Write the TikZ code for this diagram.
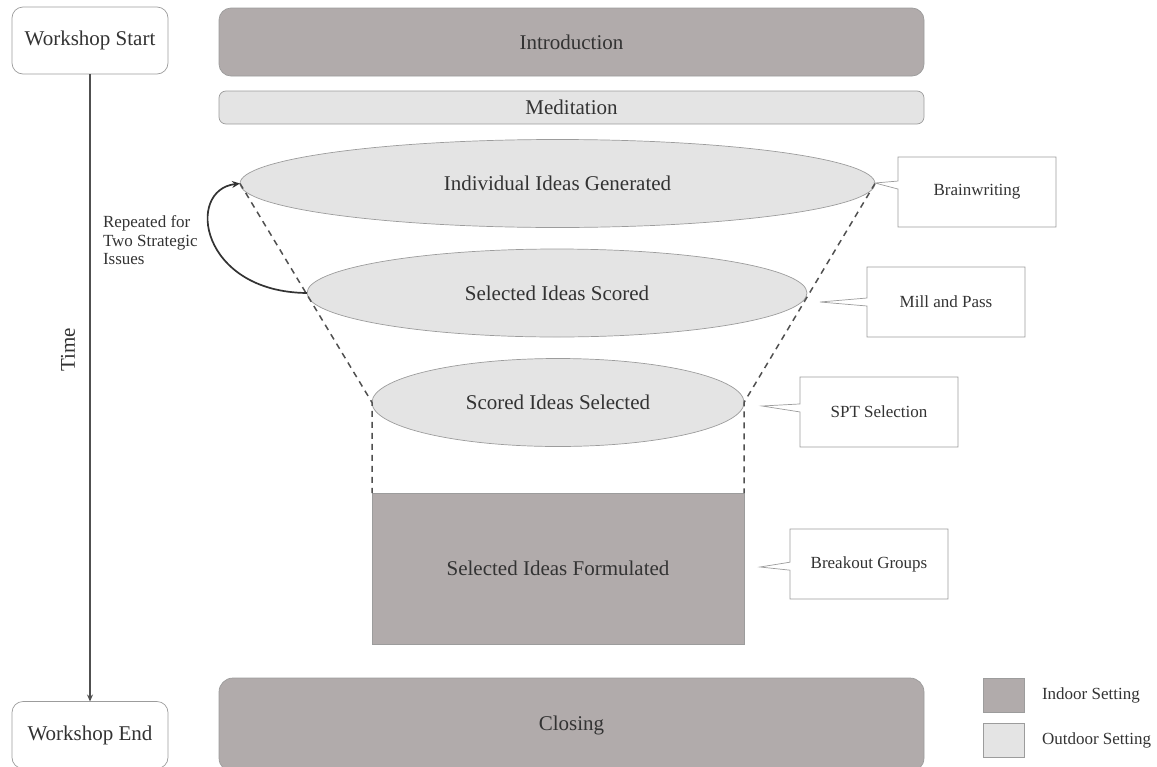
\documentclass[tikz,border=0pt]{standalone}
\usepackage{fontspec}
\setmainfont{Liberation Serif}
\usetikzlibrary{shapes.geometric,shapes.callouts,arrows.meta}
\definecolor{indoor}{HTML}{B1ABAB}
\definecolor{outdoor}{HTML}{E4E4E4}
\definecolor{edgegray}{HTML}{9C9C9C}
\definecolor{ink}{HTML}{333333}
\definecolor{linegray}{HTML}{505050}

\begin{document}
\begin{tikzpicture}[x=1pt,y=-1pt,
  every node/.style={text=ink, inner sep=0pt, outer sep=0pt},
  bigfont/.style={font=\fontsize{21}{25}\selectfont},
  smallfont/.style={font=\fontsize{17}{19}\selectfont},
  endpoint/.style={bigfont, rectangle, rounded corners=11pt, draw=edgegray, line width=0.7pt,
    fill=white, minimum width=156pt, minimum height=67pt},
  phase/.style={bigfont, rectangle, draw=edgegray, line width=0.7pt, minimum width=705pt},
  stage/.style={bigfont, ellipse, draw=edgegray, line width=0.7pt, fill=outdoor, minimum height=88pt},
  method/.style={smallfont, rectangle callout, draw=edgegray, line width=0.7pt, fill=white,
    minimum width=158pt, minimum height=70pt, callout pointer width=8pt},
  funnel/.style={dashed, dash pattern=on 6pt off 5pt, line width=1.5pt, draw=linegray},
  swatch/.style={rectangle, draw=edgegray, line width=0.7pt, minimum width=41pt, minimum height=34pt},
]
\useasboundingbox (0,0) rectangle (1157,766);

% time line
\node[endpoint] (ws) at (90,40.5) {Workshop Start};
\node[endpoint] (we) at (90,735) {Workshop End};
\draw[line width=1.3pt, draw=linegray, -{Stealth[length=7pt,width=6pt]}] (ws.south) -- (we.north);
\node[bigfont, rotate=90] (time) at (68,350) {Time};

% phases of the day
\node[phase, rounded corners=12pt, fill=indoor, minimum height=68pt] (intro) at (571.5,42) {Introduction};
\node[phase, rounded corners=7pt, fill=outdoor, minimum height=33pt] (medit) at (571.5,107.5) {Meditation};
\node[phase, rounded corners=14pt, fill=indoor, minimum height=94pt] (closing) at (571.5,725) {Closing};

% funnel stages
\node[stage, minimum width=635pt] (e1) at (557.5,183.5) {Individual Ideas Generated};
\node[stage, minimum width=500pt] (e2) at (557,293) {Selected Ideas Scored};
\node[stage, minimum width=372pt] (e3) at (558,402.5) {Scored Ideas Selected};
\node[bigfont, rectangle, draw=edgegray, line width=0.7pt, fill=indoor,
  minimum width=372pt, minimum height=151pt] (form) at (558,568.5) {Selected Ideas Formulated};

% funnel outline
\draw[funnel] (e1.west) -- (e3.west) -- (form.north west);
\draw[funnel] (e1.east) -- (e3.east) -- (form.north east);

% repetition loop
\draw[line width=1.7pt, draw=ink, -{Stealth[length=8pt,width=7pt]}]
  (e2.west) .. controls (200,292) and (185,190) .. (e1.west);
\node[smallfont, anchor=north west, align=left, font=\fontsize{17}{18.5}\selectfont]
  (rep) at (103,216) {Repeated for\\Two Strategic\\Issues};

% methods used at each stage
\coordinate (p1) at (875,183);
\coordinate (p2) at (820,302);
\coordinate (p3) at (762,406);
\coordinate (p4) at (760,567);
\node[method, callout absolute pointer={(p1)}] (brain) at (977,192) {Brainwriting};
\node[method, callout absolute pointer={(p2)}] (mill) at (946,302) {Mill and Pass};
\node[method, callout absolute pointer={(p3)}] (spt) at (879,412) {SPT Selection};
\node[method, callout absolute pointer={(p4)}] (break) at (869,564) {Breakout Groups};

% legend
\node[swatch, fill=indoor] (kin) at (1003.5,695) {};
\node[swatch, fill=outdoor] (kout) at (1003.5,740) {};
\node[smallfont, anchor=west] (lin) at (1042,695) {Indoor Setting};
\node[smallfont, anchor=west] (lout) at (1042,740) {Outdoor Setting};
\end{tikzpicture}
\end{document}
